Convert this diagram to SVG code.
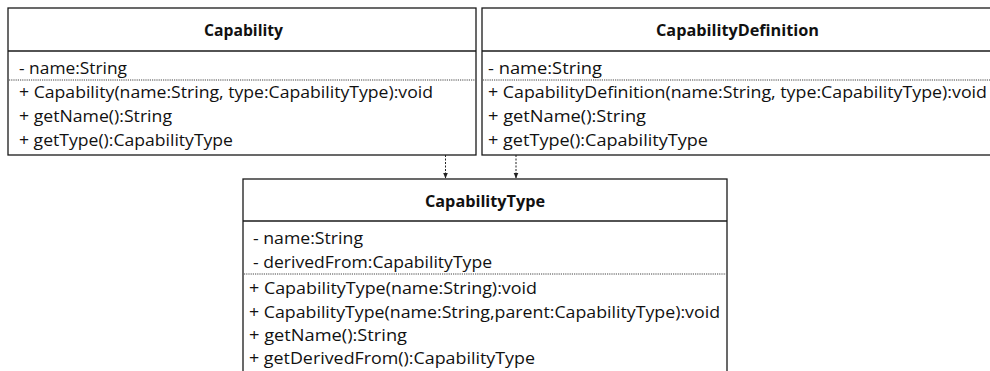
<svg xmlns="http://www.w3.org/2000/svg" width="990" height="371" viewBox="0 0 990 371">
  <style>
    .box { fill: #ffffff; stroke: #1a1a1a; stroke-width: 1.3; }
    .rule { stroke: #1a1a1a; stroke-width: 1.3; }
    .dots { stroke: #444444; stroke-width: 1; stroke-dasharray: 1.2 1; }
    .title { font-family: "Open Sans", "Liberation Sans", sans-serif; font-weight: bold; font-size: 16px; fill: #111111; }
    .member { font-family: "Open Sans", "Liberation Sans", sans-serif; font-size: 16.5px; fill: #111111; }
    .dep { stroke: #222222; stroke-width: 1; stroke-dasharray: 2 1.5; fill: none; }
  </style>
  <defs>
    <marker id="arrow" viewBox="0 0 6 6" refX="6" refY="3" markerWidth="6" markerHeight="6" markerUnits="userSpaceOnUse" orient="auto">
      <path d="M0,0.5 L6,3 L0,5.5 Z" fill="#222222"/>
    </marker>
  </defs>
  <rect width="990" height="371" fill="#ffffff"/>

  <g id="capability">
    <rect class="box" x="8" y="8" width="468" height="147"/>
    <line class="rule" x1="8" y1="51" x2="476" y2="51"/>
    <line class="dots" x1="9" y1="80" x2="475" y2="80"/>
    <text class="title" x="204" y="36" textLength="79" lengthAdjust="spacingAndGlyphs">Capability</text>
    <text class="member" x="19" y="74" textLength="108" lengthAdjust="spacingAndGlyphs">- name:String</text>
    <text class="member" x="19" y="98" textLength="414" lengthAdjust="spacingAndGlyphs">+ Capability(name:String, type:CapabilityType):void</text>
    <text class="member" x="19" y="121.5" textLength="153" lengthAdjust="spacingAndGlyphs">+ getName():String</text>
    <text class="member" x="19" y="145.5" textLength="214" lengthAdjust="spacingAndGlyphs">+ getType():CapabilityType</text>
  </g>

  <g id="capabilityDefinition">
    <rect class="box" x="482" y="8" width="512" height="147"/>
    <line class="rule" x1="482" y1="51" x2="994" y2="51"/>
    <line class="dots" x1="483" y1="80" x2="990" y2="80"/>
    <text class="title" x="656" y="36" textLength="163" lengthAdjust="spacingAndGlyphs">CapabilityDefinition</text>
    <text class="member" x="488" y="74" textLength="114" lengthAdjust="spacingAndGlyphs">- name:String</text>
    <text class="member" x="488" y="98" textLength="499" lengthAdjust="spacingAndGlyphs">+ CapabilityDefinition(name:String, type:CapabilityType):void</text>
    <text class="member" x="488" y="121.5" textLength="158" lengthAdjust="spacingAndGlyphs">+ getName():String</text>
    <text class="member" x="488" y="145.5" textLength="220" lengthAdjust="spacingAndGlyphs">+ getType():CapabilityType</text>
  </g>

  <g id="capabilityType">
    <rect class="box" x="243" y="179" width="484" height="200"/>
    <line class="rule" x1="243" y1="221" x2="727" y2="221"/>
    <line class="dots" x1="244" y1="274" x2="726" y2="274"/>
    <text class="title" x="425" y="207" textLength="120" lengthAdjust="spacingAndGlyphs">CapabilityType</text>
    <text class="member" x="253" y="244" textLength="110" lengthAdjust="spacingAndGlyphs">- name:String</text>
    <text class="member" x="253" y="267.5" textLength="239" lengthAdjust="spacingAndGlyphs">- derivedFrom:CapabilityType</text>
    <text class="member" x="249" y="294" textLength="288" lengthAdjust="spacingAndGlyphs">+ CapabilityType(name:String):void</text>
    <text class="member" x="249" y="317.5" textLength="471" lengthAdjust="spacingAndGlyphs">+ CapabilityType(name:String,parent:CapabilityType):void</text>
    <text class="member" x="249" y="340.5" textLength="158" lengthAdjust="spacingAndGlyphs">+ getName():String</text>
    <text class="member" x="249" y="363.5" textLength="286" lengthAdjust="spacingAndGlyphs">+ getDerivedFrom():CapabilityType</text>
  </g>

  <g id="connectors">
    <line class="dep" x1="445.5" y1="155" x2="445.5" y2="178.5" marker-end="url(#arrow)"/>
    <line class="dep" x1="516" y1="155" x2="516" y2="178.5" marker-end="url(#arrow)"/>
  </g>
</svg>
